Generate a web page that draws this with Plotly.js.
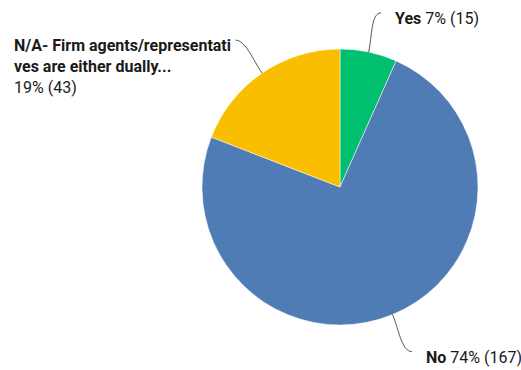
<!DOCTYPE html>
<html>
<head>
<meta charset="utf-8">
<script src="https://cdn.plot.ly/plotly-3.0.1.min.js"></script>
<style>html,body{margin:0;padding:0;background:#fff;}#chart{width:521px;height:370px;}</style>
</head>
<body>
<div id="chart"></div>
<script>
// ---- data ----
const categories = ['Yes', 'No', 'N/A- Firm agents/representatives are either dually...'];
const displayNames = ['Yes', 'No', 'N/A- Firm agents/representati<br>ves are either dually...'];
const counts = [15, 167, 43];
const colors = ['#00BF6F', '#507CB6', '#F9BE00'];

// ---- layout constants ----
const W = 521, H = 370;
const cx = 340, cy = 187, r = 138;
const FONT = 'Roboto, "Liberation Sans", sans-serif';
const FS = 16;

const total = counts.reduce((a, b) => a + b, 0);
const pct = counts.map(v => Math.round(v / total * 100));

const trace = {
  type: 'pie',
  values: counts,
  labels: categories,
  sort: false,
  direction: 'clockwise',
  rotation: 0,
  textinfo: 'none',
  hoverinfo: 'label+value+percent',
  marker: {colors: colors, line: {color: '#ffffff', width: 0.5}},
  domain: {
    x: [(cx - r) / W, (cx + r) / W],
    y: [(H - cy - r) / H, (H - cy + r) / H]
  },
  showlegend: false
};

const px = x => x / W;
const py = y => 1 - y / H;

const shapes = [];
const annotations = [];
let cum = 0;
counts.forEach((v, i) => {
  const mid = (cum + v / 2) / total * 2 * Math.PI;
  cum += v;
  const dx = Math.sin(mid), dy = -Math.cos(mid);
  const side = dx >= 0 ? 1 : -1;
  const p0 = [cx + r * dx, cy + r * dy];
  const L = 40;
  const end = [cx + (r + L) * dx + side * 4, cy + (r + L) * dy];
  const c1 = [cx + (r + 16) * dx, cy + (r + 16) * dy];
  const c2 = [end[0] - side * 10, end[1]];
  const path = `M ${px(p0[0])} ${py(p0[1])} C ${px(c1[0])} ${py(c1[1])}, ${px(c2[0])} ${py(c2[1])}, ${px(end[0])} ${py(end[1])}`;
  shapes.push({type: 'path', xref: 'paper', yref: 'paper', path: path,
    line: {color: '#555555', width: 1}});
  const gap = side > 0 ? 13 : 3;
  let text;
  if (side > 0) {
    text = `<b>${displayNames[i]}</b> ${pct[i]}% (${v})`;
  } else {
    text = `<b>${displayNames[i]}</b><br>${pct[i]}% (${v})`;
  }
  annotations.push({
    xref: 'paper', yref: 'paper',
    x: px(end[0] + side * gap), y: py(end[1] - 5),
    xanchor: side > 0 ? 'left' : 'right', yanchor: 'top',
    align: 'left', showarrow: false, borderpad: 0,
    text: text,
    font: {family: FONT, size: FS, color: '#1a1a1a'}
  });
});

const layout = {
  width: W, height: H,
  margin: {l: 0, r: 0, t: 0, b: 0},
  paper_bgcolor: '#ffffff',
  plot_bgcolor: '#ffffff',
  shapes: shapes,
  annotations: annotations,
  font: {family: FONT}
};

Plotly.newPlot('chart', [trace], layout, {displayModeBar: false, staticPlot: true});
</script>
</body>
</html>
